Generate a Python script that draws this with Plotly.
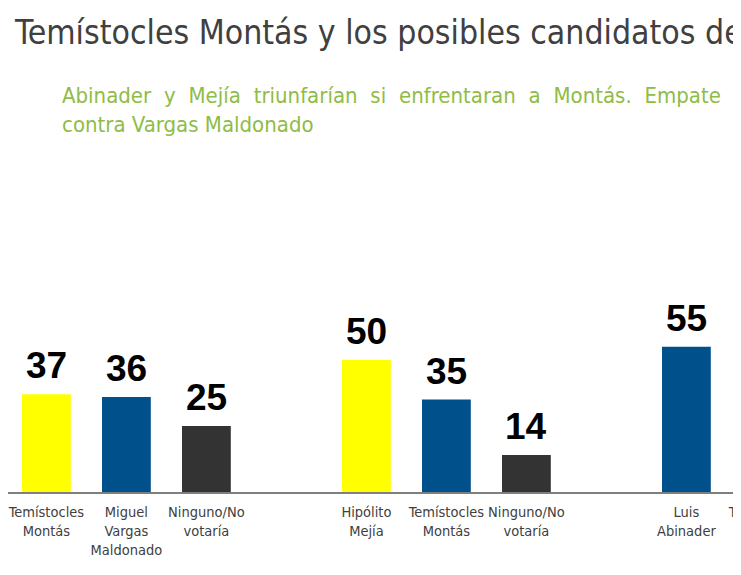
import plotly.graph_objects as go

# ---- data ----
labels = ["Temístocles<br>Montás", "Miguel<br>Vargas<br>Maldonado", "Ninguno/No<br>votaría",
          "Hipólito<br>Mejía", "Temístocles<br>Montás", "Ninguno/No<br>votaría",
          "Luis<br>Abinader", "Temístocles<br>Montás"]
values = [37, 36, 25, 50, 35, 14, 55, None]
group = [0, 0, 0, 1, 1, 1, 2, 2]
order_in_group = [0, 1, 2, 0, 1, 2, 0, 1]
bar_colors = ["#FFFF00", "#00508C", "#333333", "#FFFF00", "#00508C", "#333333", "#00508C", "#FFFF00"]

title_text = "Temístocles Montás y los posibles candidatos de"
subtitle_line1 = "Abinader y Mejía triunfarían si enfrentaran a Montás. Empate"
subtitle_line2 = "contra Vargas Maldonado"

# ---- layout geometry (page body adds an 8px offset) ----
W, H = 820, 575
ML, MR, MT, MB = 0, 0, 152, 91
slot_px = 80.0
plot_w = W - ML - MR
plot_h = H - MT - MB
x0 = -0.48
x1 = x0 + plot_w / slot_px
px_per_unit = 2.64
ymax = plot_h / px_per_unit

slots = [g * 4 + i for g, i in zip(group, order_in_group)]

def py2paper(py):
    return (H - MB - py) / plot_h

def px2paper(px):
    return (px - ML) / plot_w

FONT = "DejaVu Sans Condensed, DejaVu Sans, sans-serif"

fig = go.Figure()
fig.add_trace(go.Bar(
    x=slots, y=values, width=0.61,
    marker=dict(color=bar_colors, line=dict(width=0)),
    hoverinfo="skip",
))

annotations = []
for s, v in zip(slots, values):
    if v is None:
        continue
    annotations.append(dict(
        x=s, y=v, xref="x", yref="y", text=str(v), showarrow=False,
        yanchor="bottom", xanchor="center", yshift=6,
        font=dict(family="Liberation Sans, Arial, sans-serif", size=37, color="#000000", weight="bold"),
    ))

# justified-looking first line: widen word gaps
line1_just = " \u2004".join(subtitle_line1.split(" "))
annotations.append(dict(
    x=px2paper(52), y=py2paper(73), xref="paper", yref="paper",
    xanchor="left", yanchor="top", align="left", showarrow=False,
    text=line1_just + "<br>" + subtitle_line2,
    font=dict(family=FONT, size=22, color="#8FBC45"),
))

fig.update_layout(
    width=W, height=H,
    margin=dict(l=ML, r=MR, t=MT, b=MB, pad=0),
    paper_bgcolor="white", plot_bgcolor="white",
    showlegend=False,
    title=dict(text=title_text, x=7 / W, xref="container", xanchor="left",
               y=1 - 13 / H, yref="container", yanchor="top",
               font=dict(family=FONT, size=33.5, color="#404040")),
    xaxis=dict(range=[x0, x1], tickvals=slots, ticktext=labels, showgrid=False,
               zeroline=False, showline=True, linecolor="#7F7F7F", linewidth=1.5,
               ticks="", ticklabelstandoff=6, ticklabeloverflow="allow",
               tickfont=dict(family=FONT, size=14.5, color="#404040")),
    yaxis=dict(range=[0, ymax], visible=False, showgrid=False, zeroline=False),
    annotations=annotations,
    shapes=[dict(type="line", xref="paper", yref="paper", layer="below",
                 x0=px2paper(731), x1=px2paper(731), y0=py2paper(0), y1=py2paper(H),
                 line=dict(color="#E3E3E3", width=1))],
)

fig.write_html("out.html")
